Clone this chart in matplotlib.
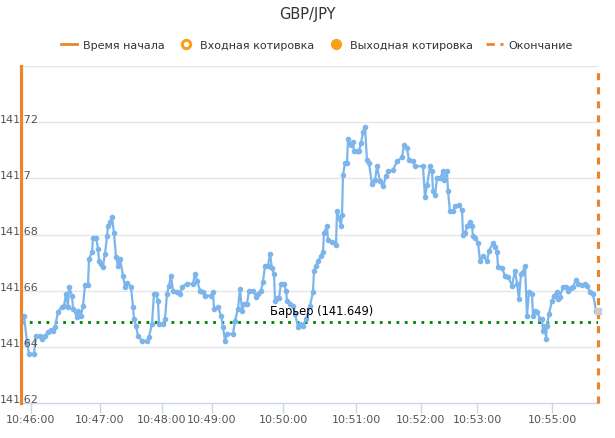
import matplotlib
matplotlib.use("Agg")
import matplotlib.pyplot as plt
from matplotlib.lines import Line2D

# quote data: x = tick number since start, y = price
tick_idx = [0, 3, 6, 8, 13, 15, 19, 21, 24, 27, 30, 32, 34, 37, 41, 43, 45, 47, 48, 51,
            52, 56, 57, 60, 62, 64, 67, 68, 71, 72, 75, 77, 78, 80, 82, 84, 86, 87, 89, 91,
            93, 95, 97, 99, 102, 104, 106, 110, 112, 113, 115, 117, 121, 126, 128, 131, 133, 135, 137, 138,
            142, 144, 146, 148, 150, 152, 156, 159, 161, 166, 172, 174, 176, 179, 182, 184, 190, 192, 193, 197,
            200, 202, 204, 206, 212, 214, 217, 219, 221, 223, 226, 228, 232, 235, 237, 240, 242, 244, 247, 249,
            251, 253, 254, 256, 258, 260, 263, 265, 266, 269, 272, 274, 277, 279, 282, 285, 289, 292, 293, 295,
            297, 300, 302, 303, 306, 307, 311, 315, 316, 318, 320, 321, 322, 324, 326, 327, 330, 332, 333, 336,
            338, 340, 342, 344, 346, 348, 351, 354, 356, 359, 362, 365, 367, 372, 376, 381, 383, 386, 388, 392,
            394, 402, 404, 406, 409, 411, 412, 414, 416, 419, 422, 423, 426, 427, 429, 432, 434, 438, 441, 442,
            444, 446, 449, 451, 452, 454, 457, 459, 462, 466, 468, 472, 474, 476, 477, 481, 484, 487, 491, 494,
            496, 498, 500, 502, 504, 506, 508, 511, 512, 514, 516, 519, 521, 522, 524, 525, 526, 528, 531, 533,
            536, 537, 539, 542, 545, 547, 550, 552, 555, 557, 561, 564, 566, 569, 572, 575]
quotes = [141.6489, 141.6511, 141.6418, 141.6375, 141.6375, 141.6439, 141.6439, 141.6429, 141.6439, 141.6454,
          141.6461, 141.6457, 141.6471, 141.6525, 141.6543, 141.6546, 141.6589, 141.6543, 141.6614, 141.6582,
          141.6536, 141.6507, 141.6529, 141.6511, 141.6546, 141.6621, 141.6621, 141.6711, 141.6739, 141.6789,
          141.6789, 141.6750, 141.6707, 141.6696, 141.6686, 141.6732, 141.6793, 141.6829, 141.6846, 141.6861,
          141.6804, 141.6721, 141.6689, 141.6714, 141.6654, 141.6614, 141.6629, 141.6614, 141.6543, 141.6500,
          141.6475, 141.6439, 141.6421, 141.6421, 141.6436, 141.6482, 141.6589, 141.6589, 141.6564, 141.6482,
          141.6482, 141.6500, 141.6589, 141.6618, 141.6654, 141.6600, 141.6596, 141.6589, 141.6614, 141.6625,
          141.6625, 141.6661, 141.6636, 141.6600, 141.6596, 141.6582, 141.6582, 141.6596, 141.6536, 141.6543,
          141.6511, 141.6471, 141.6421, 141.6446, 141.6446, 141.6493, 141.6536, 141.6607, 141.6529, 141.6554,
          141.6554, 141.6600, 141.6600, 141.6579, 141.6589, 141.6600, 141.6632, 141.6689, 141.6689, 141.6732,
          141.6679, 141.6661, 141.6564, 141.6575, 141.6575, 141.6625, 141.6625, 141.6600, 141.6564, 141.6554,
          141.6546, 141.6518, 141.6471, 141.6482, 141.6475, 141.6500, 141.6546, 141.6596, 141.6671, 141.6689,
          141.6704, 141.6725, 141.6739, 141.6804, 141.6832, 141.6779, 141.6775, 141.6761, 141.6882, 141.6857,
          141.6832, 141.6868, 141.7011, 141.7054, 141.7054, 141.7139, 141.7118, 141.7129, 141.7096, 141.7096,
          141.7096, 141.7125, 141.7164, 141.7182, 141.7064, 141.7054, 141.6979, 141.6993, 141.7043, 141.6989,
          141.6971, 141.7007, 141.7025, 141.7029, 141.7061, 141.7075, 141.7118, 141.7107, 141.7064, 141.7061,
          141.7043, 141.7043, 141.6932, 141.6975, 141.7043, 141.7025, 141.6954, 141.6939, 141.7000, 141.7000,
          141.7025, 141.6993, 141.7025, 141.6954, 141.6882, 141.6882, 141.6900, 141.6904, 141.6886, 141.6800,
          141.6804, 141.6829, 141.6846, 141.6832, 141.6793, 141.6789, 141.6771, 141.6707, 141.6725, 141.6704,
          141.6743, 141.6768, 141.6757, 141.6739, 141.6686, 141.6679, 141.6654, 141.6650, 141.6618, 141.6671,
          141.6625, 141.6571, 141.6661, 141.6668, 141.6689, 141.6511, 141.6596, 141.6589, 141.6511, 141.6529,
          141.6525, 141.6500, 141.6500, 141.6457, 141.6475, 141.6429, 141.6475, 141.6518, 141.6564, 141.6582,
          141.6596, 141.6571, 141.6579, 141.6614, 141.6614, 141.6600, 141.6611, 141.6614, 141.6639, 141.6625,
          141.6621, 141.6625, 141.6618, 141.6596, 141.6589, 141.6529]

start_tick = 0
end_tick = 577
exit_quote = 141.6529
barrier = 141.649

xtick_pos = [10, 79, 141, 191, 262, 335, 400, 456, 531]
xtick_labels = ["10:46:00", "10:47:00", "10:48:00", "10:49:00", "10:50:00",
                "10:51:00", "10:52:00", "10:53:00", "10:55:00"]
ytick_vals = [141.62, 141.64, 141.66, 141.68, 141.7, 141.72]
ytick_labels = ["141.62", "141.64", "141.66", "141.68", "141.7", "141.72"]

blue = "#7cb5ec"
orange_line = "#ea852b"
orange_dot = "#f9a01b"
txt = "#333333"

fig = plt.figure(figsize=(6.15, 4.39), dpi=100)
W, H = 615, 439
ax = fig.add_axes([21 / W, 1 - 404 / H, 577 / W, 337 / H])

ax.set_xlim(start_tick, end_tick)
ax.set_ylim(141.62, 141.74)

# grid
for v in [141.64, 141.66, 141.68, 141.7, 141.72, 141.74]:
    ax.axhline(v, color="#e6e6e6", lw=1, zorder=0)

for s in ["top", "right", "left"]:
    ax.spines[s].set_visible(False)
ax.spines["bottom"].set_color("#ccd6eb")
ax.spines["bottom"].set_linewidth(1)

ax.plot(tick_idx, quotes, color=blue, lw=1.6, marker="o", ms=3, zorder=3)

ax.axhline(barrier, color="#008000", lw=2, ls=(0, (1, 2)), zorder=2)
ax.annotate("Барьер (%s)" % barrier, xy=(0.432, barrier), xycoords=("axes fraction", "data"),
            xytext=(0, 3), textcoords="offset points", fontsize=8.3, color="black",
            ha="left", va="bottom", zorder=5)

ax.axvline(start_tick, color=orange_line, lw=2.3, zorder=5, clip_on=False)
ax.axvline(end_tick, color=orange_line, lw=2.3, ls=(0, (2.2, 2.2)), zorder=5, clip_on=False)
# exit quote marker
ax.plot([end_tick], [exit_quote], marker="s", ms=4, color="#cccccc", zorder=6, clip_on=False)

ax.set_xticks(xtick_pos)
ax.set_xticklabels(xtick_labels)
ax.tick_params(axis="x", colors="#ccd6eb", length=7, width=1, labelcolor="#555555",
               labelsize=8, pad=1)
ax.set_yticks([])

for v, lab in zip(ytick_vals, ytick_labels):
    ax.annotate(lab, xy=(0, v), xycoords=("axes fraction", "data"), xytext=(-15, -1),
                textcoords="offset points", fontsize=8, color="#555555",
                ha="left", va="bottom")

fig.text(0.5, 1 - 15 / H, "GBP/JPY", ha="center", va="center", fontsize=10.5, color=txt)

handles = [
    Line2D([], [], color=orange_line, lw=2),
    Line2D([], [], color=orange_dot, lw=0, marker="o", ms=6, mfc="white", mew=2.2),
    Line2D([], [], color=orange_dot, lw=0, marker="o", ms=7),
    Line2D([], [], color=orange_line, lw=2, ls=(0, (3, 2))),
]
labels = ["Время начала", "Входная котировка", "Выходная котировка", "Окончание"]
fig.legend(handles, labels, loc="center", bbox_to_anchor=(0.515, 1 - 46 / H), ncol=4,
           frameon=False, fontsize=8, labelcolor=txt, handlelength=1.5,
           handletextpad=0.5, columnspacing=1.2)

fig.savefig("out.png", dpi=100)
